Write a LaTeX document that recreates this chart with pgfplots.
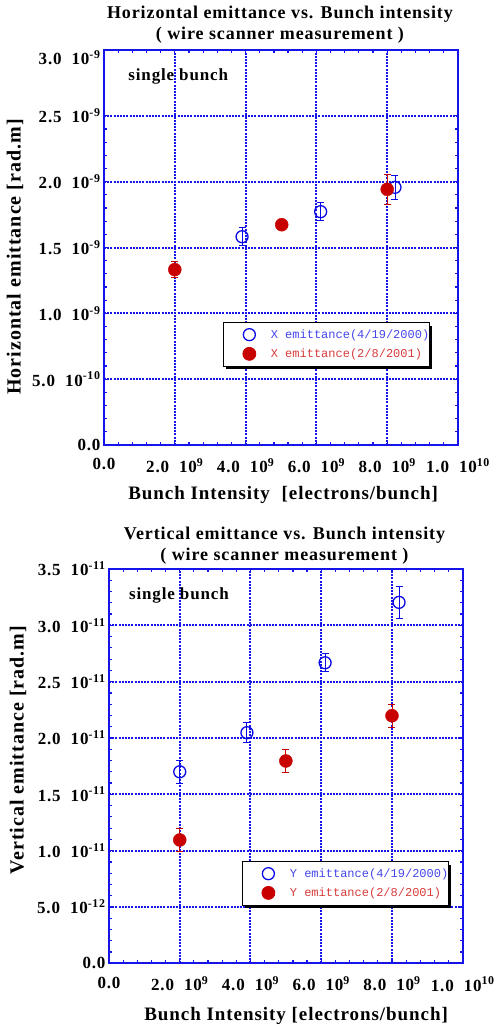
\documentclass[border=0pt]{standalone}
\usepackage{pgfplots}
\pgfplotsset{compat=1.18}
\usepackage{fontspec}
\setmainfont{Liberation Serif}[LetterSpace=5]
\newfontfamily\monof{Liberation Mono}
\usetikzlibrary{shadows}
\definecolor{gblue}{RGB}{20,20,235}
\definecolor{mblue}{RGB}{10,10,230}
\definecolor{mred}{RGB}{200,0,0}
\definecolor{tblue}{RGB}{70,70,235}
\definecolor{tred}{RGB}{215,60,60}
\newcommand{\sep}{\hspace{10pt}}
\newcommand{\lgt}[2]{\hspace{13pt}\makebox[137pt][l]{\textcolor{#1}{#2}}}
\pgfplotsset{
 emit/.style={
  scale only axis, clip=false,
  axis line style={gblue, line width=2pt},
  every tick/.style={gblue, line width=1.2pt},
  tick align=inside, tick pos=both,
  major tick length=4pt, minor tick length=3pt,
  minor x tick num=4, minor y tick num=4,
  grid=major,
  grid style={draw=gblue, line width=2pt, dash pattern=on 2pt off 1.2pt},
  major grid style={draw=gblue, line width=2pt, dash pattern=on 2pt off 1.2pt},
  xmin=0, xmax=10, xtick={0,2,4,6,8,10},
  xticklabels={0.0, 2.0\sep10\textsuperscript{9}, 4.0\sep10\textsuperscript{9}, 6.0\sep10\textsuperscript{9}, 8.0\sep10\textsuperscript{9}, 1.0\sep10\textsuperscript{10}},
  tick label style={font=\bfseries\fontsize{17}{19}\selectfont, black},
  xticklabel style={yshift=-10pt},
  ylabel style={font=\bfseries\fontsize{20}{22}\selectfont, anchor=center},
  xlabel style={font=\bfseries\fontsize{19}{22}\selectfont, anchor=center},
  title style={font=\bfseries\fontsize{18}{21}\selectfont, align=center, anchor=center},
  legend style={font=\monof\fontsize{12}{14}\selectfont, draw=black, line width=0.8pt, fill=white,
     drop shadow={shadow xshift=3pt, shadow yshift=-3pt, fill=black, opacity=1},
     anchor=north west, inner xsep=19.5pt, inner ysep=5pt, row sep=5pt},
  legend cell align=left,
 },
 blues/.style={only marks, mark=o, mark size=6pt, mark options={mblue, line width=1.3pt},
   /pgfplots/error bars/y dir=both, /pgfplots/error bars/y explicit,
   /pgfplots/error bars/error bar style={mblue, line width=0.9pt},
   /pgfplots/error bars/error mark options={rotate=90, mblue, mark size=3.5pt, line width=0.9pt}},
 reds/.style={only marks, mark=*, mark size=6.5pt, mark options={draw=mred, fill=mred},
   /pgfplots/error bars/y dir=both, /pgfplots/error bars/y explicit,
   /pgfplots/error bars/error bar style={mred, line width=0.9pt},
   /pgfplots/error bars/error mark options={rotate=90, mred, mark size=3.5pt, line width=0.9pt}},
}
\begin{document}
\begin{tikzpicture}
\useasboundingbox (0,0) rectangle (496pt,-1030pt);
% ---------- top panel: horizontal emittance (x in 1e9, y in 1e-9) ----------
\begin{axis}[emit,
  at={(104pt,-445pt)}, anchor=south west, width=354pt, height=395pt,
  ymin=0, ymax=3, ytick={0,0.5,1,1.5,2,2.5},
  yticklabels={0.0, 5.0\sep10\textsuperscript{-10}, 1.0\sep10\textsuperscript{-9}, 1.5\sep10\textsuperscript{-9}, 2.0\sep10\textsuperscript{-9}, 2.5\sep10\textsuperscript{-9}},
  extra y ticks={3}, extra y tick labels={3.0\sep10\textsuperscript{-9}},
  extra y tick style={yticklabel style={yshift=-8pt}},
  title={Horizontal emittance vs. Bunch intensity\\( wire scanner measurement )},
  title style={at={(axis description cs:0.497,1.049)}},
  ylabel={Horizontal emittance [rad.m]},
  ylabel style={at={(axis description cs:-0.251,0.476)}},
  xlabel={Bunch Intensity\hspace{6pt} [electrons/bunch]},
  xlabel style={at={(axis description cs:0.506,-0.127)}},
  legend style={at={(axis description cs:0.336,0.311)}},
]
\addplot[blues] table[x=x, y=y, y error=e] {
x y e
3.90 1.582 0.07
6.12 1.772 0.07
8.22 1.957 0.09
};
\addlegendentry{\lgt{tblue}{X emittance(4/19/2000)}}
\addplot[reds] table[x=x, y=y, y error=e] {
x y e
2.00 1.332 0.06
5.02 1.673 0.03
8.00 1.942 0.114
};
\addlegendentry{\lgt{tred}{X emittance(2/8/2001)}}
\node[anchor=west, font=\bfseries\fontsize{17}{20}\selectfont] at (axis description cs:0.059,0.932) {single\hspace{5pt}bunch};
\end{axis}
% ---------- bottom panel: vertical emittance (x in 1e9, y in 1e-11) ----------
\begin{axis}[emit,
  at={(109pt,-963.3pt)}, anchor=south west, width=353.7pt, height=394.3pt,
  ymin=0, ymax=3.5, ytick={0,0.5,1,1.5,2,2.5,3,3.5},
  yticklabels={0.0, 5.0\sep10\textsuperscript{-12}, 1.0\sep10\textsuperscript{-11}, 1.5\sep10\textsuperscript{-11}, 2.0\sep10\textsuperscript{-11}, 2.5\sep10\textsuperscript{-11}, 3.0\sep10\textsuperscript{-11}, 3.5\sep10\textsuperscript{-11}},
  title={Vertical emittance vs. Bunch intensity\\( wire scanner measurement )},
  title style={at={(axis description cs:0.496,1.043)}},
  ylabel={Vertical emittance [rad.m]},
  ylabel style={at={(axis description cs:-0.257,0.541)}},
  xlabel={Bunch Intensity [electrons/bunch]},
  xlabel style={at={(axis description cs:0.529,-0.134)}},
  legend style={at={(axis description cs:0.376,0.259)}},
]
\addplot[blues] table[x=x, y=y, y error=e] {
x y e
2.00 1.700 0.10
3.90 2.047 0.09
6.11 2.668 0.08
8.20 3.204 0.145
};
\addlegendentry{\lgt{tblue}{Y emittance(4/19/2000)}}
\addplot[reds] table[x=x, y=y, y error=e] {
x y e
2.00 1.095 0.10
5.00 1.796 0.10
8.00 2.198 0.10
};
\addlegendentry{\lgt{tred}{Y emittance(2/8/2001)}}
\node[anchor=west, font=\bfseries\fontsize{17}{20}\selectfont] at (axis description cs:0.047,0.932) {single\hspace{5pt}bunch};
\end{axis}
\end{tikzpicture}
\end{document}
